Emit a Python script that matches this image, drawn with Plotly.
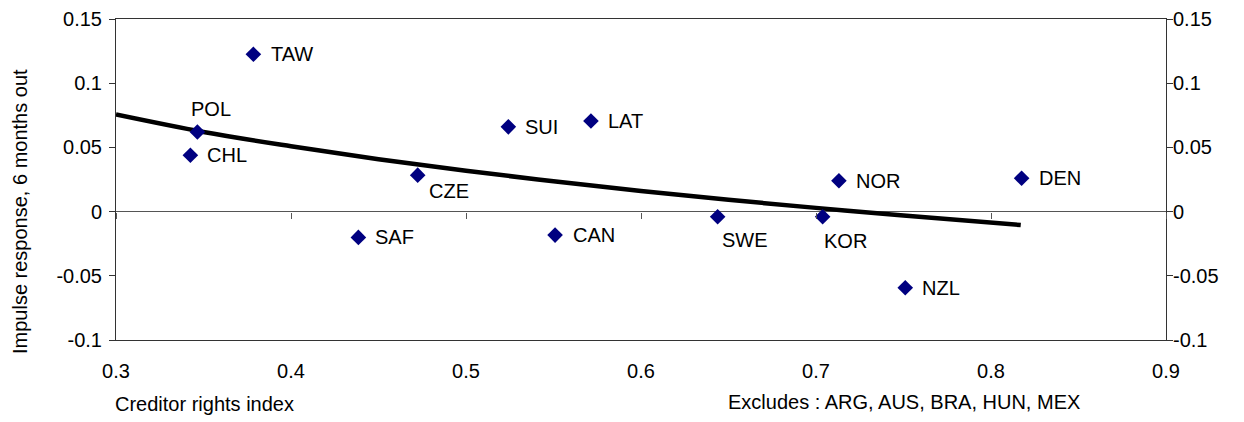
import plotly.graph_objects as go

# ---- data ----
countries = ["TAW", "POL", "CHL", "CZE", "SUI", "LAT", "SAF", "CAN",
             "NOR", "DEN", "SWE", "KOR", "NZL"]
creditor_rights = [0.3785, 0.3465, 0.3425, 0.4724, 0.5242, 0.5714, 0.4385,
                   0.5509, 0.7131, 0.8175, 0.6438, 0.7038, 0.7510]
impulse_response = [0.1225, 0.0620, 0.0439, 0.0284, 0.0660, 0.0706, -0.0201,
                    -0.0183, 0.0240, 0.0260, -0.0040, -0.0040, -0.0593]

# fitted trend line, read at points along the curve
trend_x = [0.30, 0.35, 0.40, 0.45, 0.50, 0.55, 0.60, 0.65, 0.70, 0.75, 0.817]
trend_y = [0.0756, 0.0620, 0.0509, 0.0408, 0.0318, 0.0236, 0.0161, 0.0092,
           0.0029, -0.0030, -0.0105]

x_ticks = [0.3, 0.4, 0.5, 0.6, 0.7, 0.8, 0.9]
x_tick_labels = ["0.3", "0.4", "0.5", "0.6", "0.7", "0.8", "0.9"]
y_ticks = [-0.1, -0.05, 0, 0.05, 0.1, 0.15]
y_tick_labels = ["-0.1", "-0.05", "0", "0.05", "0.1", "0.15"]

# label offsets (pixels) relative to each marker
label_dx = [16, -8, 15, 9, 15, 15, 15, 16, 15, 15, 2, -1, 15]
label_dy = [0, 23, 0, -16, 0, 0, 0, 0, 0, 0, -23, -24, 0]

FONT = "Liberation Sans, Arial, sans-serif"
FS = 20
FRAME = "#333333"

fig = go.Figure()

fig.add_trace(go.Scatter(
    x=trend_x, y=trend_y, mode="lines",
    line=dict(color="black", width=4.5, shape="spline"),
    hoverinfo="skip", showlegend=False))

fig.add_trace(go.Scatter(
    x=creditor_rights, y=impulse_response, mode="markers",
    marker=dict(symbol="diamond", size=12, color="#000080",
                line=dict(width=0)),
    text=countries, hoverinfo="text", showlegend=False))

# invisible helpers so that the secondary axes are drawn
fig.add_trace(go.Scatter(x=creditor_rights, y=impulse_response, mode="markers",
                         marker=dict(opacity=0), xaxis="x2", yaxis="y",
                         hoverinfo="skip", showlegend=False))
fig.add_trace(go.Scatter(x=creditor_rights, y=impulse_response, mode="markers",
                         marker=dict(opacity=0), xaxis="x", yaxis="y2",
                         hoverinfo="skip", showlegend=False))

annotations = []
for name, xv, yv, dx, dy in zip(countries, creditor_rights, impulse_response,
                                label_dx, label_dy):
    annotations.append(dict(
        x=xv, y=yv, xref="x", yref="y", text=name, showarrow=False,
        xanchor="left", yanchor="middle", xshift=dx, yshift=dy,
        font=dict(family=FONT, size=FS, color="black")))

annotations.append(dict(
    x=-0.092, y=0.40, xref="paper", yref="paper",
    text="Impulse response, 6 months out", textangle=-90, showarrow=False,
    xanchor="center", yanchor="middle",
    font=dict(family=FONT, size=FS, color="black")))
annotations.append(dict(
    x=-0.003, y=-0.199, xref="paper", yref="paper",
    text="Creditor rights index", showarrow=False,
    xanchor="left", yanchor="middle",
    font=dict(family=FONT, size=FS, color="black")))
annotations.append(dict(
    x=0.581, y=-0.193, xref="paper", yref="paper",
    text="Excludes : ARG, AUS, BRA, HUN, MEX", showarrow=False,
    xanchor="left", yanchor="middle",
    font=dict(family=FONT, size=FS, color="black")))

# page body has an 8px default margin; size the figure to fit the window
fig.update_layout(
    width=1236, height=414,
    margin=dict(l=108, r=78, t=11, b=82),
    paper_bgcolor="white", plot_bgcolor="white",
    font=dict(family=FONT, size=FS, color="black"),
    showlegend=False,
    xaxis=dict(range=[0.3, 0.9], tickvals=x_ticks, ticktext=x_tick_labels,
               showgrid=False, zeroline=False, showline=True, mirror=True,
               linecolor=FRAME, linewidth=1, ticks="", ticklabelstandoff=13,
               automargin=False,
               tickfont=dict(family=FONT, size=FS, color="black")),
    xaxis2=dict(range=[0.3, 0.9], tickvals=x_ticks, overlaying="x",
                anchor="free", position=0.4, side="bottom",
                showgrid=False, zeroline=False, showline=False,
                ticks="outside", ticklen=6, tickcolor="#555555",
                showticklabels=False, automargin=False),
    yaxis=dict(range=[-0.1, 0.15], tickvals=y_ticks, ticktext=y_tick_labels,
               showgrid=False, zeroline=True, zerolinecolor="#555555",
               zerolinewidth=1, showline=True, linecolor=FRAME, linewidth=1,
               ticks="outside", ticklen=6, tickcolor=FRAME, automargin=False,
               ticklabelstandoff=3,
               tickfont=dict(family=FONT, size=FS, color="black")),
    yaxis2=dict(range=[-0.1, 0.15], tickvals=y_ticks, ticktext=y_tick_labels,
                overlaying="y", side="right", anchor="x",
                showgrid=False, zeroline=False, showline=True,
                linecolor=FRAME, linewidth=1, automargin=False,
                ticks="outside", ticklen=6, tickcolor=FRAME,
                ticklabelstandoff=-4,
                tickfont=dict(family=FONT, size=FS, color="black")),
    annotations=annotations,
)

fig.write_html("out.html")
